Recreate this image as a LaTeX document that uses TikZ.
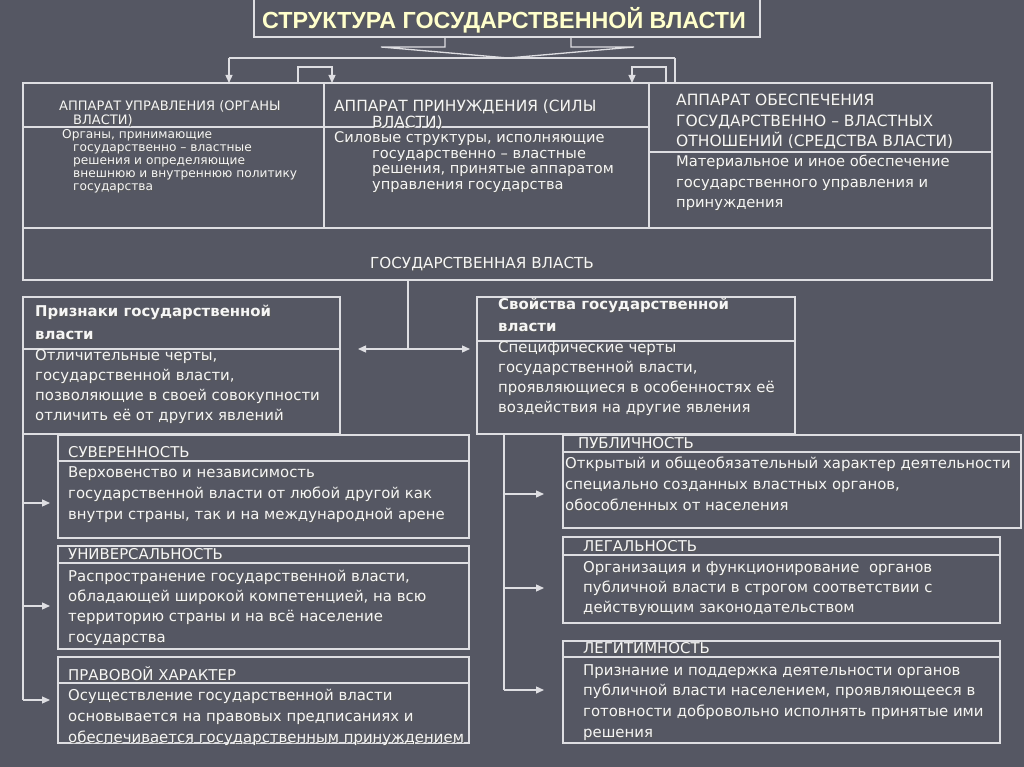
\documentclass[tikz,border=0pt]{standalone}
\usepackage{fontspec}
\setmainfont{DejaVu Sans}
\newfontfamily\titlefont{Liberation Sans}
\usetikzlibrary{arrows.meta}
\definecolor{bg}{RGB}{85,87,99}
\definecolor{ln}{RGB}{222,222,226}
\definecolor{tx}{RGB}{246,246,246}
\definecolor{ttl}{RGB}{255,255,204}
\newcommand\sh[1]{\leavevmode\rlap{\raisebox{-1pt}{\hspace{1pt}\textcolor{black!65}{#1}}}#1}
\newcommand\mlines[1]{\vtop{\halign{##\hfil\cr#1\crcr}}}
\begin{document}
\begin{tikzpicture}[x=1pt,y=-1pt,
  box/.style={draw=ln, line width=1.3pt, anchor=north west, inner sep=0pt, outer sep=0pt},
  conn/.style={draw=ln, line width=1.3pt},
  arr/.style={conn, -{Triangle[length=8pt,width=7pt]}},
  darr/.style={conn, {Triangle[length=8pt,width=7pt]}-{Triangle[length=8pt,width=7pt]}},
  txt/.style={text=tx, inner sep=0pt, anchor=base west},
  fLH/.style={font=\fontsize{13}{11}\selectfont},
  fLB/.style={font=\fontsize{12.2}{13}\selectfont},
  fMH/.style={font=\fontsize{15.4}{13.5}\selectfont},
  fMB/.style={font=\fontsize{14.6}{15.5}\selectfont},
  fRH/.style={font=\fontsize{15.5}{20.5}\selectfont},
  fRB/.style={font=\fontsize{14.7}{20.5}\selectfont},
  fbold/.style={font=\fontsize{14.9}{23}\selectfont\bfseries},
  fbody/.style={font=\fontsize{14.9}{20.7}\selectfont}]
\useasboundingbox (0,0) rectangle (1024,767);
\fill[bg] (0,0) rectangle (1024,767);

% title
\node[box, minimum width=506pt, minimum height=39pt] (title) at (254,-2) {};
\node[text=ttl, inner sep=0pt, anchor=base, font=\titlefont\fontsize{23.3}{24}\selectfont\bfseries] (titletext) at (504,29) {\sh{СТРУКТУРА ГОСУДАРСТВЕННОЙ ВЛАСТИ}};

% top block
\node[box, minimum width=969pt, minimum height=197pt] (big) at (23,83) {};
\node[box, minimum width=301pt, minimum height=145pt] (c1) at (23,83) {};
\node[box, minimum width=325pt, minimum height=145pt] (c2) at (324,83) {};
\node[box, minimum width=343pt, minimum height=145pt] (c3) at (649,83) {};
\draw[conn] (c1.west |- 0,127) -- (c2.east |- 0,127);
\draw[conn] (c3.west |- 0,152) -- (c3.east |- 0,152);

% connectors from title
\coordinate (b1) at (445,47);
\coordinate (b2) at (381,47);
\coordinate (b3) at (571,47);
\coordinate (b4) at (634,47);
\coordinate (apex) at (508,58);
\coordinate (h1) at (229,58);
\coordinate (h2) at (675,58);
\coordinate (l1) at (298,67);
\coordinate (l2) at (332,67);
\coordinate (r1) at (666,67);
\coordinate (r2) at (632,67);
\draw[conn] (b1 |- title.south) -- (b1) -- (b2) -- (apex);
\draw[conn] (b3 |- title.south) -- (b3) -- (b4) -- (apex);
\draw[conn] (h1) -- (h2);
\draw[arr] (h1) -- (h1 |- c1.north);
\draw[conn] (h2) -- (h2 |- c3.north);
\draw[arr] (l1 |- c1.north) -- (l1) -- (l2) -- (l2 |- c2.north);
\draw[arr] (r1 |- c3.north) -- (r1) -- (r2) -- (r2 |- c2.north);

% top texts
\node[txt, fLH] (t1h) at (59,111) {\mlines{\sh{АППАРАТ УПРАВЛЕНИЯ (ОРГАНЫ}\cr\hspace*{14pt}\sh{ВЛАСТИ)}}};
\node[txt, fLB] (t1b) at (62,139) {\mlines{\sh{Органы, принимающие}\cr\hspace*{11pt}\sh{государственно – властные}\cr\hspace*{11pt}\sh{решения и определяющие}\cr\hspace*{11pt}\sh{внешнюю и внутреннюю политику}\cr\hspace*{11pt}\sh{государства}}};
\node[txt, fMH] (t2h) at (334,111.5) {\mlines{\sh{АППАРАТ ПРИНУЖДЕНИЯ (СИЛЫ}\cr\hspace*{38pt}\sh{ВЛАСТИ)}}};
\node[txt, fMB] (t2b) at (334,143) {\mlines{\sh{Силовые структуры, исполняющие}\cr\hspace*{38pt}\sh{государственно – властные}\cr\hspace*{38pt}\sh{решения, принятые аппаратом}\cr\hspace*{38pt}\sh{управления государства}}};
\node[txt, fRH] (t3h) at (676,106) {\mlines{\sh{АППАРАТ ОБЕСПЕЧЕНИЯ}\cr\sh{ГОСУДАРСТВЕННО – ВЛАСТНЫХ}\cr\sh{ОТНОШЕНИЙ (СРЕДСТВА ВЛАСТИ)}}};
\node[txt, fRB] (t3b) at (676,167) {\mlines{\sh{Материальное и иное обеспечение}\cr\sh{государственного управления и}\cr\sh{принуждения}}};
\node[text=tx, inner sep=0pt, anchor=base, font=\fontsize{15.2}{16}\selectfont] (gv) at (482,268) {\sh{ГОСУДАРСТВЕННАЯ ВЛАСТЬ}};

% middle
\node[box, minimum width=317pt, minimum height=137pt] (priz) at (23,297) {};
\draw[conn] (priz.west |- 0,349) -- (priz.east |- 0,349);
\node[txt, fbold] (prizh) at (35,316) {\mlines{\sh{Признаки государственной}\cr\sh{власти}}};
\node[txt, font=\fontsize{14.9}{20}\selectfont] (prizb) at (35,360) {\mlines{\sh{Отличительные черты,}\cr\sh{государственной власти,}\cr\sh{позволяющие в своей совокупности}\cr\sh{отличить её от других явлений}}};

\node[box, minimum width=318pt, minimum height=137pt] (svo) at (477,297) {};
\draw[conn] (svo.west |- 0,341) -- (svo.east |- 0,341);
\node[txt, font=\fontsize{14.9}{22}\selectfont\bfseries] (svoh) at (498,309.5) {\mlines{\sh{Свойства государственной}\cr\sh{власти}}};
\node[txt, font=\fontsize{14.9}{20}\selectfont] (svob) at (498,352.5) {\mlines{\sh{Специфические черты}\cr\sh{государственной власти,}\cr\sh{проявляющиеся в особенностях её}\cr\sh{воздействия на другие явления}}};

\coordinate (dm) at (408,349);
\coordinate (dl) at (358,349);
\coordinate (dr) at (470,349);
\draw[conn] (dm |- big.south) -- (dm);
\draw[darr] (dl) -- (dr);

% left column
\node[box, minimum width=411pt, minimum height=103pt] (sov) at (58,435) {};
\draw[conn] (sov.west |- 0,461) -- (sov.east |- 0,461);
\node[txt, fbody] (sovh) at (68,457) {\sh{СУВЕРЕННОСТЬ}};
\node[txt, font=\fontsize{14.9}{21}\selectfont] (sovb) at (68,477) {\mlines{\sh{Верховенство и независимость}\cr\sh{государственной власти от любой другой как}\cr\sh{внутри страны, так и на международной арене}}};

\node[box, minimum width=411pt, minimum height=103pt] (uni) at (58,546) {};
\draw[conn] (uni.west |- 0,563) -- (uni.east |- 0,563);
\node[txt, fbody] (unih) at (68,559) {\sh{УНИВЕРСАЛЬНОСТЬ}};
\node[txt, font=\fontsize{14.9}{20.4}\selectfont] (unib) at (68,581) {\mlines{\sh{Распространение государственной власти,}\cr\sh{обладающей широкой компетенцией, на всю}\cr\sh{территорию страны и на всё население}\cr\sh{государства}}};

\node[box, minimum width=411pt, minimum height=86pt] (prav) at (58,657) {};
\draw[conn] (prav.west |- 0,683) -- (prav.east |- 0,683);
\node[txt, fbody] (pravh) at (68,680) {\sh{ПРАВОВОЙ ХАРАКТЕР}};
\node[txt, font=\fontsize{14.9}{21}\selectfont] (pravb) at (68,700) {\mlines{\sh{Осуществление государственной власти}\cr\sh{основывается на правовых предписаниях и}\cr\sh{обеспечивается государственным принуждением}}};

\coordinate (la1) at (23,503);
\coordinate (la2) at (23,606);
\coordinate (la3) at (23,700);
\draw[conn] (priz.south west) -- (la3);
\draw[arr, shorten >=8pt] (la1) -- (la1 -| sov.west);
\draw[arr, shorten >=8pt] (la2) -- (la2 -| uni.west);
\draw[arr, shorten >=8pt] (la3) -- (la3 -| prav.west);

% right column
\node[box, minimum width=458pt, minimum height=93pt] (pub) at (563,435) {};
\draw[conn] (pub.west |- 0,452) -- (pub.east |- 0,452);
\node[txt, fbody] (pubh) at (578,448) {\sh{ПУБЛИЧНОСТЬ}};
\node[txt, font=\fontsize{14.9}{21}\selectfont] (pubb) at (565,468) {\mlines{\sh{Открытый и общеобязательный характер деятельности}\cr\sh{специально созданных властных органов,}\cr\sh{обособленных от населения}}};

\node[box, minimum width=437pt, minimum height=86pt] (leg) at (563,537) {};
\draw[conn] (leg.west |- 0,555) -- (leg.east |- 0,555);
\node[txt, fbody] (legh) at (583,551) {\sh{ЛЕГАЛЬНОСТЬ}};
\node[txt, font=\fontsize{14.9}{20.3}\selectfont] (legb) at (583,572) {\mlines{\sh{Организация и функционирование\ \ органов}\cr\sh{публичной власти в строгом соответствии с}\cr\sh{действующим законодательством}}};

\node[box, minimum width=437pt, minimum height=102pt] (lgt) at (563,641) {};
\draw[conn] (lgt.west |- 0,657) -- (lgt.east |- 0,657);
\node[txt, fbody] (lgth) at (583,653) {\sh{ЛЕГИТИМНОСТЬ}};
\node[txt, font=\fontsize{14.9}{20.7}\selectfont] (lgtb) at (583,675) {\mlines{\sh{Признание и поддержка деятельности органов}\cr\sh{публичной власти населением, проявляющееся в}\cr\sh{готовности добровольно исполнять принятые ими}\cr\sh{решения}}};

\coordinate (ra1) at (504,494);
\coordinate (ra2) at (504,588);
\coordinate (ra3) at (504,690);
\draw[conn] (ra3 |- svo.south) -- (ra3);
\draw[arr, shorten >=19pt] (ra1) -- (ra1 -| pub.west);
\draw[arr, shorten >=19pt] (ra2) -- (ra2 -| leg.west);
\draw[arr, shorten >=19pt] (ra3) -- (ra3 -| lgt.west);
\end{tikzpicture}
\end{document}
